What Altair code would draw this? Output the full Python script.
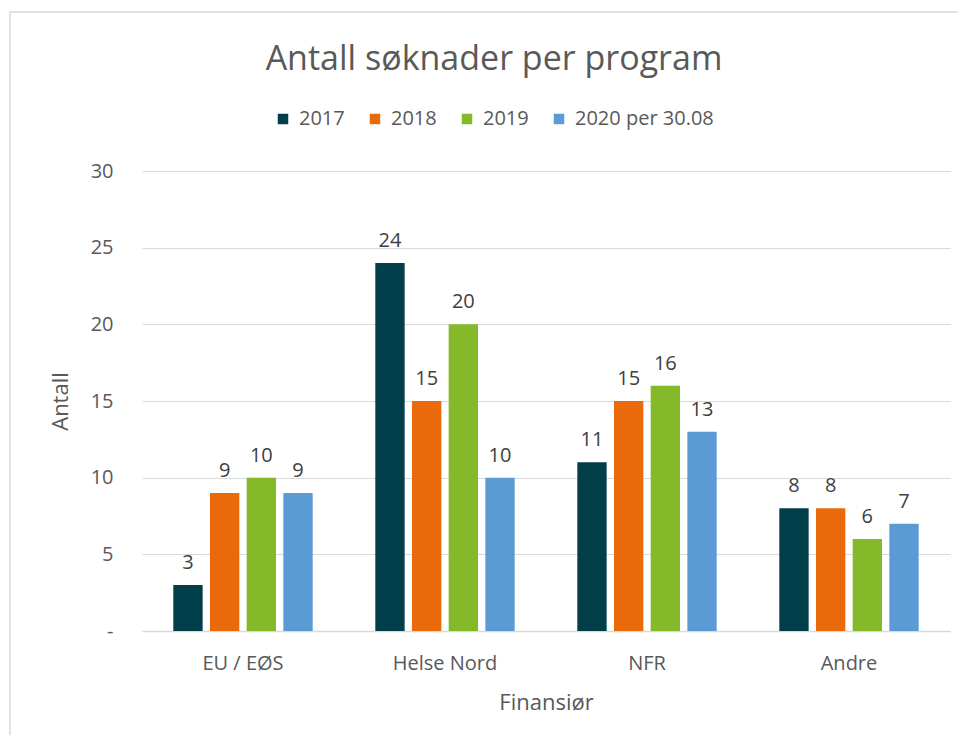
import altair as alt
import pandas as pd

categories = ["EU / EØS", "Helse Nord", "NFR", "Andre"]
years = ["2017", "2018", "2019", "2020 per 30.08"]
v2017 = [3, 24, 11, 8]
v2018 = [9, 15, 15, 8]
v2019 = [10, 20, 16, 6]
v2020 = [9, 10, 13, 7]
colors = ["#023d4a", "#ea6a0b", "#84ba2a", "#5b9bd5"]
y_ticks = [0, 5, 10, 15, 20, 25, 30]

rows = []
for yr, vals in zip(years, [v2017, v2018, v2019, v2020]):
    for c, v in zip(categories, vals):
        rows.append({"Finansiør": c, "År": yr, "Antall": v})
df = pd.DataFrame(rows)

FONT = "Open Sans"
GREY = "#595959"

base = alt.Chart(df).encode(
    x=alt.X(
        "Finansiør:N",
        sort=categories,
        scale=alt.Scale(paddingInner=0.31, paddingOuter=0.155),
        axis=alt.Axis(
            title="Finansiør",
            labelAngle=0,
            ticks=False,
            grid=False,
            domainColor="#d9d9d9",
            domainWidth=1.5,
            labelFontSize=20,
            labelFont=FONT,
            labelColor=GREY,
            labelPadding=22,
            titleFontSize=22,
            titleFont=FONT,
            titleColor=GREY,
            titleFontWeight="normal",
            titlePadding=19,
        ),
    ),
    xOffset=alt.XOffset("År:N", sort=years, scale=alt.Scale(paddingInner=0.2, paddingOuter=0)),
    y=alt.Y(
        "Antall:Q",
        scale=alt.Scale(domain=[0, 30], nice=False),
        axis=alt.Axis(
            title="Antall",
            values=y_ticks,
            labelExpr="datum.value == 0 ? '-  ' : datum.label",
            grid=True,
            gridColor="#d9d9d9",
            gridWidth=1,
            domain=False,
            ticks=False,
            labelFontSize=20,
            labelFont=FONT,
            labelColor=GREY,
            labelPadding=29,
            titleFontSize=22,
            titleFont=FONT,
            titleColor=GREY,
            titleFontWeight="normal",
            titlePadding=18,
        ),
    ),
)

bars = base.mark_bar().encode(
    color=alt.Color(
        "År:N",
        sort=years,
        scale=alt.Scale(domain=years, range=colors),
        legend=alt.Legend(
            title=None,
            orient="none",
            legendX=131,
            legendY=-62,
            direction="horizontal",
            symbolType="square",
            symbolSize=110,
            symbolStrokeWidth=0,
            labelFontSize=20,
            labelFont=FONT,
            labelColor=GREY,
            labelOffset=6,
            columnPadding=20,
        ),
    )
)

labels = base.mark_text(
    baseline="bottom", dy=-12, fontSize=20, font=FONT, color="#404040"
).encode(text="Antall:Q")

border = alt.Chart(pd.DataFrame({"a": [0]})).mark_rect(
    fill="transparent", stroke="#d9d9d9", strokeWidth=1.5
).encode(
    x=alt.value(-132), x2=alt.value(900), y=alt.value(-159), y2=alt.value(700)
)

chart = (
    alt.layer(border, bars, labels)
    .properties(
        width=808,
        height=460,
        autosize="none",
        padding={"left": 134, "top": 163, "right": 8, "bottom": 104},
        title=alt.TitleParams(
            "Antall søknader per program",
            fontSize=34,
            font=FONT,
            color=GREY,
            fontWeight="normal",
            anchor="middle",
            dx=-52,
            offset=-66,
        ),
    )
    .configure_view(strokeWidth=0)
)

chart.save("out.html", embed_options={"renderer": "svg", "actions": False})
